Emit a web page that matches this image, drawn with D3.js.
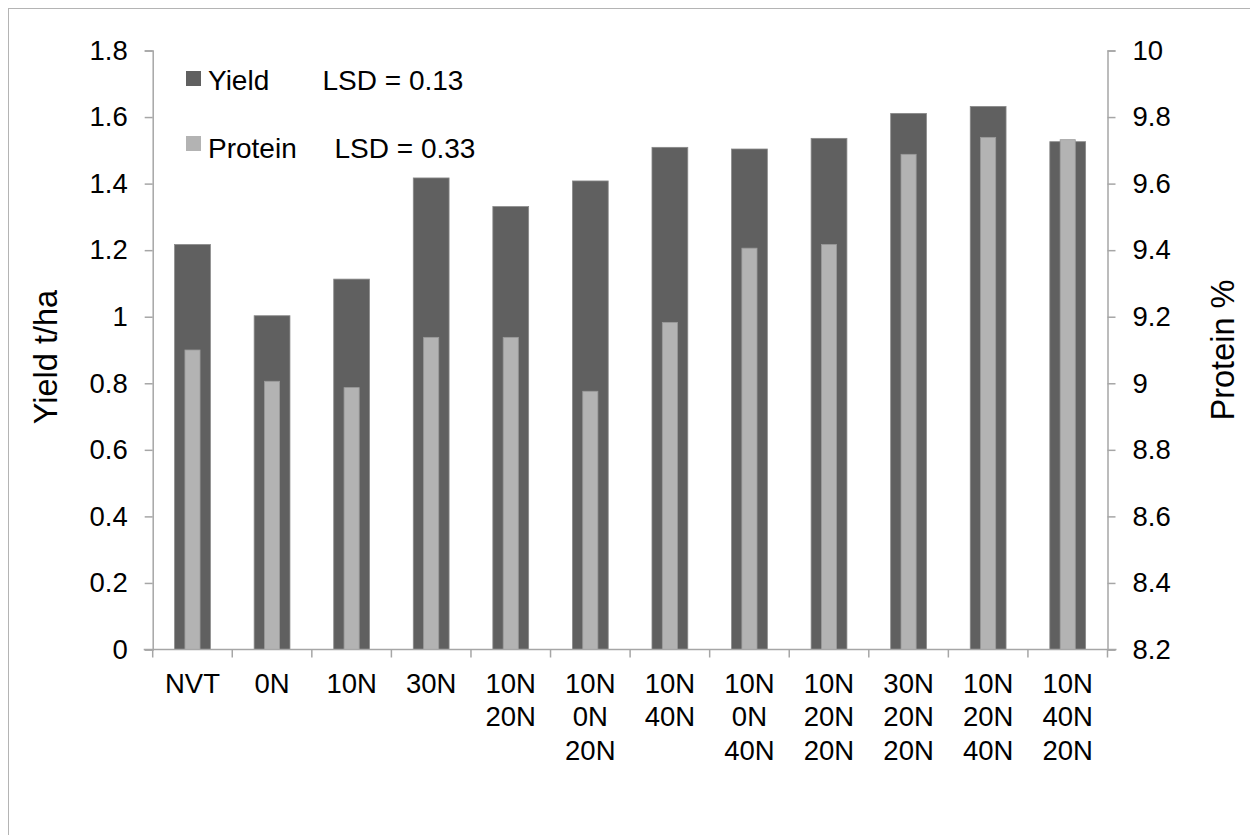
<!DOCTYPE html>
<html>
<head>
<meta charset="utf-8">
<script src="https://cdn.jsdelivr.net/npm/d3@7"></script>
<style>
  html, body { margin: 0; padding: 0; background: #fff; }
  svg { display: block; font-family: "Liberation Sans", Arial, sans-serif; }
</style>
</head>
<body>
<svg id="chart" width="1250" height="835"></svg>
<script>
const categories = [
  ["NVT"], ["0N"], ["10N"], ["30N"], ["10N", "20N"], ["10N", "0N", "20N"],
  ["10N", "40N"], ["10N", "0N", "40N"], ["10N", "20N", "20N"], ["30N", "20N", "20N"],
  ["10N", "20N", "40N"], ["10N", "40N", "20N"]
];
const yieldValues = [1.217, 1.003, 1.113, 1.417, 1.331, 1.408, 1.509, 1.504, 1.536, 1.611, 1.632, 1.526];
const proteinValues = [9.100, 9.006, 8.987, 9.138, 9.138, 8.976, 9.183, 9.406, 9.417, 9.688, 9.739, 9.732];
const yieldTicks = [0, 0.2, 0.4, 0.6, 0.8, 1, 1.2, 1.4, 1.6, 1.8];
const proteinTicks = [8.2, 8.4, 8.6, 8.8, 9, 9.2, 9.4, 9.6, 9.8, 10];
const legendItems = [
  { name: "Yield", lsd: "LSD = 0.13", color: "#606060" },
  { name: "Protein", lsd: "LSD = 0.33", color: "#b3b3b3" }
];

const svg = d3.select("#chart");
const mLeft = 152.7, mRight = 1107.5, mTop = 50.5, mBottom = 649.5;
const axisColor = "#a6a6a6";

// outer border
svg.append("rect").attr("x", 8.5).attr("y", 8.5).attr("width", 1260).attr("height", 840)
  .attr("fill", "none").attr("stroke", "#b4b4b4").attr("stroke-width", 1);

const keys = categories.map((c, i) => i);
const x = d3.scaleBand().domain(keys).range([mLeft, mRight]).paddingInner(0).paddingOuter(0);
const yL = d3.scaleLinear().domain([0, 1.8]).range([mBottom, mTop]);
const yR = d3.scaleLinear().domain([8.2, 10]).range([mBottom, mTop]);

const bw = x.bandwidth();
const yW = bw * 0.45, pW = bw * 0.19;

// Yield bars
svg.append("g").selectAll("rect").data(yieldValues).join("rect")
  .attr("x", (d, i) => x(i) + (bw - yW) / 2)
  .attr("width", yW)
  .attr("y", d => yL(d))
  .attr("height", d => yL(0) - yL(d))
  .attr("fill", "#606060").attr("stroke", "#8a8a8a").attr("stroke-width", 0.8);

// Protein bars
svg.append("g").selectAll("rect").data(proteinValues).join("rect")
  .attr("x", (d, i) => x(i) + (bw - pW) / 2)
  .attr("width", pW)
  .attr("y", d => yR(d))
  .attr("height", d => yR(8.2) - yR(d))
  .attr("fill", "#b3b3b3").attr("stroke", "#9a9a9a").attr("stroke-width", 0.8);

// Left axis
const gL = svg.append("g").attr("transform", `translate(${mLeft},0)`)
  .call(d3.axisLeft(yL).tickValues(yieldTicks).tickFormat(d => d3.format("~g")(d)).tickSize(8).tickPadding(17));
// Right axis
const gR = svg.append("g").attr("transform", `translate(${mRight},0)`)
  .call(d3.axisRight(yR).tickValues(proteinTicks).tickFormat(d => d3.format("~g")(d)).tickSize(8).tickPadding(17));
// Bottom axis
const gB = svg.append("g").attr("transform", `translate(0,${mBottom})`)
  .call(d3.axisBottom(x).tickSize(0).tickFormat(""));
// category boundary ticks
const bounds = keys.map(i => x(i)).concat([mRight]);
svg.append("g").selectAll("line").data(bounds).join("line")
  .attr("x1", d => d).attr("x2", d => d)
  .attr("y1", mBottom).attr("y2", mBottom + 8)
  .attr("stroke", axisColor).attr("stroke-width", 1.5);

[gL, gR, gB].forEach(g => {
  g.select(".domain").attr("stroke", axisColor).attr("stroke-width", 1.5);
  g.selectAll(".tick line").attr("stroke", axisColor).attr("stroke-width", 1.5);
  g.selectAll(".tick text").attr("fill", "#000").attr("font-size", 27.5)
    .attr("font-family", "'Liberation Sans', Arial, sans-serif");
});
gB.select(".domain").attr("d", `M${mLeft - 9},0H${mRight + 9}`);

// category labels (multi-line)
const lab = svg.append("g");
categories.forEach((lines, i) => {
  const t = lab.append("text")
    .attr("x", x(i) + bw / 2)
    .attr("y", 692.5)
    .attr("text-anchor", "middle")
    .attr("font-size", 27.5)
    .attr("fill", "#000");
  lines.forEach((ln, j) => {
    t.append("tspan").attr("x", x(i) + bw / 2).attr("y", 692.5 + j * 33.7).text(ln);
  });
});

// axis titles
svg.append("text")
  .attr("transform", "translate(57,357) rotate(-90)")
  .attr("text-anchor", "middle")
  .attr("font-size", 32.5).attr("fill", "#000")
  .text("Yield t/ha");
svg.append("text")
  .attr("transform", "translate(1234,350) rotate(-90)")
  .attr("text-anchor", "middle")
  .attr("font-size", 32.5).attr("fill", "#000")
  .text("Protein %");

// legend
const lg = svg.append("g");
const squareY = [71, 136];
const textY = [89.5, 158];
legendItems.forEach((d, i) => {
  lg.append("rect").attr("x", 186).attr("y", squareY[i]).attr("width", 15).attr("height", 15).attr("fill", d.color);
  lg.append("text").attr("x", 208).attr("y", textY[i]).attr("font-size", 28).attr("fill", "#000").text(d.name);
  lg.append("text").attr("x", i === 0 ? 322.5 : 334.5).attr("y", textY[i]).attr("font-size", 28).attr("fill", "#000").text(d.lsd);
});
</script>
</body>
</html>
